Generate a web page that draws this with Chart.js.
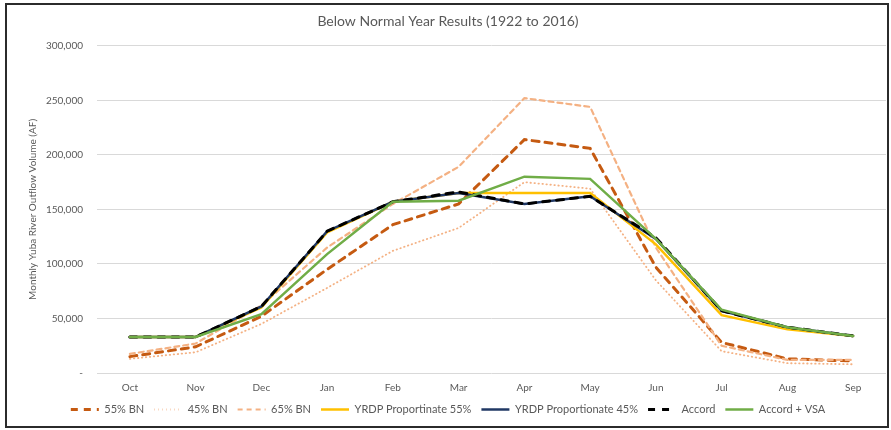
<!DOCTYPE html>
<html>
<head>
<meta charset="utf-8">
<script src="https://cdn.jsdelivr.net/npm/chart.js@4/dist/chart.umd.min.js"></script>
<style>
  html, body { margin: 0; padding: 0; background: #fff; }
  #wrap { position: relative; width: 891px; height: 430px; }
  #frame { position: absolute; left: 5px; top: 3px; width: 880px; height: 421px; border: 2px solid #2b2b2b; pointer-events: none; }
</style>
</head>
<body>
<div id="wrap">
  <canvas id="myChart" width="891" height="430"></canvas>
  <div id="frame"></div>
</div>
<script>
const months = ['Oct', 'Nov', 'Dec', 'Jan', 'Feb', 'Mar', 'Apr', 'May', 'Jun', 'Jul', 'Aug', 'Sep'];

const bn55 = [15000, 24000, 52000, 95000, 136000, 155000, 214000, 206000, 97000, 28000, 13000, 11000];
const bn45 = [13000, 19000, 45000, 78000, 112000, 133000, 175000, 169000, 85000, 20000, 9000, 8000];
const bn65 = [17500, 27000, 62000, 115000, 155000, 189000, 252000, 244000, 115000, 25000, 12000, 12000];
const yrdp55 = [33000, 33000, 60000, 129000, 157000, 165000, 165000, 165000, 118000, 53000, 40000, 34000];
const yrdp45 = [33000, 33000, 61000, 130000, 157000, 165000, 155000, 162000, 123000, 57000, 42000, 34000];
const accord = [33000, 33000, 61000, 130000, 157000, 166000, 155000, 162000, 124000, 57000, 42000, 34000];
const accordVsa = [33000, 33000, 54000, 109000, 157000, 158000, 180000, 178000, 123000, 58000, 42000, 34000];

const seriesNames = ['55% BN', '45% BN', '65% BN', 'YRDP Proportinate 55%', 'YRDP Proportionate 45%', 'Accord', 'Accord + VSA'];

const font = 'Lato, "Open Sans", sans-serif';
const grey = '#595959';

function makeSet(label, data, color, width, dash, order) {
    return {
        label: label,
        data: data,
        borderColor: color,
        backgroundColor: color,
        borderWidth: width,
        borderDash: dash,
        borderCapStyle: 'round',
        pointRadius: 0,
        tension: 0,
        fill: false,
        order: order
    };
}

const ctx = document.getElementById('myChart').getContext('2d');
new Chart(ctx, {
    type: 'line',
    data: {
        labels: months,
        datasets: [
            makeSet(seriesNames[0], bn55, '#C55A11', 3, [7, 6], 6),
            makeSet(seriesNames[1], bn45, '#F4B183', 1.8, [0.5, 3.5], 5),
            makeSet(seriesNames[2], bn65, '#F4B183', 2.2, [5, 4], 4),
            makeSet(seriesNames[3], yrdp55, '#FFC000', 2.5, [], 3),
            makeSet(seriesNames[4], yrdp45, '#203864', 2.5, [], 2),
            makeSet(seriesNames[5], accord, '#000000', 3, [7, 7], 1),
            makeSet(seriesNames[6], accordVsa, '#70AD47', 2.5, [], 0)
        ]
    },
    options: {
        responsive: false,
        animation: false,
        layout: { padding: { left: 10, right: 5, top: 8, bottom: 5 } },
        plugins: {
            title: {
                display: true,
                text: 'Below Normal Year Results (1922 to 2016)',
                color: grey,
                font: { family: font, size: 14, weight: 'normal' },
                padding: { top: 5, bottom: 16 }
            },
            legend: {
                position: 'bottom',
                labels: {
                    usePointStyle: true,
                    pointStyle: 'line',
                    pointStyleWidth: 28,
                    color: grey,
                    padding: 10,
                    font: { family: font, size: 11 },
                    sort: (a, b) => a.datasetIndex - b.datasetIndex,
                    generateLabels: chart => {
                        const items = Chart.defaults.plugins.legend.labels.generateLabels(chart);
                        items.forEach(it => {
                            const ds = chart.data.datasets[it.datasetIndex];
                            it.lineDash = ds.borderDash;
                            it.lineWidth = ds.borderWidth;
                            it.strokeStyle = ds.borderColor;
                            it.lineCap = 'butt';
                        });
                        return items;
                    }
                }
            },
            tooltip: { enabled: false }
        },
        scales: {
            x: {
                offset: true,
                grid: { display: false, drawTicks: false },
                border: { display: false },
                ticks: { color: grey, font: { family: font, size: 10 }, padding: 9 },
                afterFit: s => { s.height = 21; }
            },
            y: {
                min: 0,
                max: 300000,
                ticks: {
                    stepSize: 50000,
                    color: grey,
                    padding: 14,
                    font: { family: font, size: 10 },
                    callback: v => v === 0 ? '-' : v.toLocaleString('en-US')
                },
                grid: { color: '#D9D9D9', drawTicks: false },
                border: { display: false },
                title: {
                    display: true,
                    text: 'Monthly Yuba River Outflow Volume (AF)',
                    color: grey,
                    font: { family: font, size: 10 },
                    padding: { top: 17, bottom: 4 }
                },
                afterFit: s => { s.width = 87; }
            }
        }
    }
});
</script>
</body>
</html>
